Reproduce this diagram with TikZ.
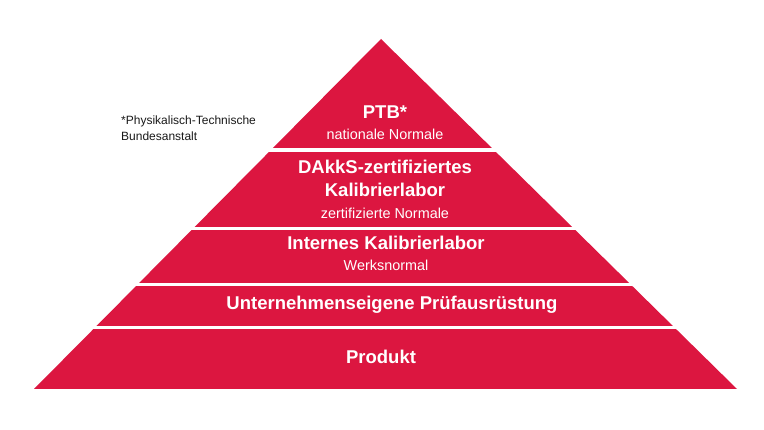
\documentclass[tikz,border=0pt]{standalone}
\usepackage{fontspec}
\setmainfont{Liberation Sans}
\definecolor{pyrred}{RGB}{220,22,64}
\definecolor{notegray}{RGB}{25,25,25}
\begin{document}
\begin{tikzpicture}[x=1pt,y=-1pt,
  tiertitle/.style={text=white,font=\fontsize{18.5}{20}\selectfont\bfseries,anchor=base,inner sep=0pt},
  tiersub/.style={text=white,font=\fontsize{14.4}{16}\selectfont,anchor=base,inner sep=0pt},
  footnote/.style={text=notegray,font=\fontsize{12}{14}\selectfont,anchor=base west,inner sep=0pt},
  gapline/.style={white,line width=3.6pt}]
\useasboundingbox (0,0) rectangle (764,430);
\fill[color=pyrred] (381,39) -- (737,389) -- (34,389) -- cycle;
\draw[gapline] (0,150.3) -- (764,150.3);
\draw[gapline] (0,228.6) -- (764,228.6);
\draw[gapline] (0,284.6) -- (764,284.6);
\draw[gapline] (0,327.4) -- (764,327.4);
\node[tiertitle] (ptb) at (385,118.3) {PTB*};
\node[tiersub] (ptbsub) at (385,139.3) {nationale Normale};
\node[tiertitle] (dakks) at (385,173.3) {DAkkS-zertifiziertes};
\node[tiertitle] (dakks2) at (385,196.7) {Kalibrierlabor};
\node[tiersub] (dakkssub) at (385,218.3) {zertifizierte Normale};
\node[tiertitle] (intern) at (386,249.3) {Internes Kalibrierlabor};
\node[tiersub] (internsub) at (386,270.7) {Werksnormal};
\node[tiertitle] (pruef) at (392,310) {Unternehmenseigene Prüfausrüstung};
\node[tiertitle] (produkt) at (381,363.3) {Produkt};
\node[footnote] (note1) at (121,124.3) {*Physikalisch-Technische};
\node[footnote] (note2) at (121,141) {Bundesanstalt};
\end{tikzpicture}
\end{document}
